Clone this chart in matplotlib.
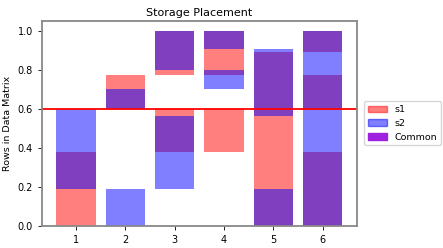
import matplotlib.pyplot as plt
from matplotlib.patches import Patch

# placement of rows for each storage, as (start, end) fractions
columns = [1, 2, 3, 4, 5, 6]
s1_ranges = [
    [(0.0, 0.38)],
    [(0.6, 0.775)],
    [(0.38, 0.6), (0.775, 1.0)],
    [(0.38, 0.6), (0.775, 1.0)],
    [(0.0, 0.89)],
    [(0.0, 0.38), (0.6, 0.775), (0.89, 1.0)],
]
s2_ranges = [
    [(0.19, 0.6)],
    [(0.0, 0.19), (0.6, 0.70)],
    [(0.19, 0.565), (0.80, 1.0)],
    [(0.70, 0.80), (0.905, 1.0)],
    [(0.0, 0.19), (0.565, 0.905)],
    [(0.0, 1.0)],
]
threshold = 0.6

fig = plt.figure(figsize=(4.43, 2.48), dpi=100)
ax = fig.add_axes([0.095, 0.09, 0.71, 0.825])

for x, segs in zip(columns, s1_ranges):
    for lo, hi in segs:
        ax.bar(x, hi - lo, bottom=lo, color="red", alpha=0.5, width=0.8)
for x, segs in zip(columns, s2_ranges):
    for lo, hi in segs:
        ax.bar(x, hi - lo, bottom=lo, color="blue", alpha=0.5, width=0.8)

ax.axhline(threshold, color="red", lw=1.3)

ax.set_title("Storage Placement", fontsize=8, pad=4)
ax.set_ylabel("Rows in Data Matrix", fontsize=6.8)
ax.tick_params(labelsize=7, length=3, width=0.6)
ax.set_xticks(columns)
for s in ax.spines.values():
    s.set_color("#888888")
    s.set_linewidth(1.3)

handles = [Patch(color="red", alpha=0.5, label="s1"),
           Patch(color="blue", alpha=0.5, label="s2"),
           Patch(color="#a020e0", label="Common")]
ax.legend(handles=handles, loc="center left", bbox_to_anchor=(1.01, 0.5),
          fontsize=6.8, handlelength=2.0, borderpad=0.4, labelspacing=0.5)

fig.savefig("out.png", dpi=100)
